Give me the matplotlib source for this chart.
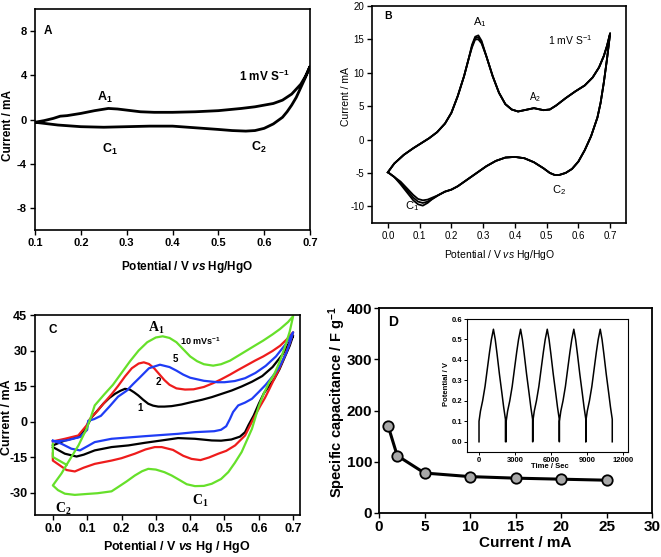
import matplotlib
matplotlib.use("Agg")
import matplotlib.pyplot as plt
import numpy as np

plt.rcParams['font.family'] = ['Liberation Sans', 'DejaVu Sans']
plt.rcParams['axes.unicode_minus'] = False
plt.rcParams['mathtext.fontset'] = 'custom'
plt.rcParams['mathtext.rm'] = 'Liberation Sans'
plt.rcParams['mathtext.bf'] = 'Liberation Sans:bold'
plt.rcParams['mathtext.it'] = 'Liberation Sans:italic'
plt.rcParams['mathtext.sf'] = 'Liberation Sans:bold:italic'
plt.rcParams['mathtext.cal'] = 'Liberation Serif:bold'

# ---------------- Panel A data ----------------
a_up_x = [0.10, 0.12, 0.14, 0.155, 0.17, 0.20, 0.23, 0.26, 0.28, 0.30, 0.33, 0.36, 0.40, 0.45, 0.50,
          0.55, 0.58, 0.60, 0.62, 0.64, 0.66, 0.68, 0.69, 0.70]
a_up_y = [-0.25, -0.1, 0.1, 0.3, 0.35, 0.55, 0.8, 1.0, 0.95, 0.85, 0.7, 0.65, 0.65, 0.7, 0.8,
          1.0, 1.15, 1.3, 1.45, 1.75, 2.3, 3.2, 3.9, 4.8]
a_dn_x = [0.70, 0.69, 0.68, 0.67, 0.66, 0.65, 0.64, 0.62, 0.60, 0.58, 0.56, 0.53, 0.50, 0.45, 0.40,
          0.35, 0.30, 0.25, 0.20, 0.15, 0.12, 0.10]
a_dn_y = [4.8, 3.8, 2.9, 2.0, 1.3, 0.7, 0.2, -0.4, -0.8, -1.0, -1.05, -1.0, -0.9, -0.75, -0.6,
          -0.6, -0.65, -0.7, -0.65, -0.5, -0.35, -0.25]

# ---------------- Panel B data ----------------
b_up_x = [0.0, 0.02, 0.05, 0.08, 0.10, 0.13, 0.155, 0.18, 0.20, 0.22, 0.24, 0.255, 0.265, 0.275, 0.285,
          0.295, 0.31, 0.33, 0.35, 0.37, 0.39, 0.41, 0.43, 0.45, 0.46, 0.47, 0.49, 0.51, 0.53, 0.56,
          0.59, 0.62, 0.645, 0.665, 0.68, 0.69, 0.70]
b_up_y = [-4.9, -3.6, -2.3, -1.3, -0.7, 0.2, 1.1, 2.4, 4.0, 6.5, 9.5, 12.2, 14.0, 15.2, 15.3,
          14.6, 12.5, 9.5, 7.0, 5.3, 4.5, 4.2, 4.4, 4.6, 4.7, 4.6, 4.4, 4.5, 5.1, 6.2,
          7.2, 8.1, 9.3, 10.8, 12.5, 14.0, 15.9]
b_dn_x = [0.70, 0.69, 0.68, 0.67, 0.66, 0.64, 0.62, 0.60, 0.58, 0.56, 0.54, 0.525, 0.51, 0.49, 0.46,
          0.43, 0.40, 0.37, 0.34, 0.31, 0.28, 0.25, 0.22, 0.20, 0.18, 0.16, 0.14, 0.125, 0.11, 0.095,
          0.08, 0.06, 0.04, 0.02, 0.0]
b_dn_y = [15.9, 12.0, 8.5, 5.5, 3.3, 0.5, -1.6, -3.3, -4.4, -5.0, -5.3, -5.3, -5.0, -4.3, -3.4,
          -2.8, -2.6, -2.7, -3.2, -4.0, -5.0, -6.0, -7.0, -7.5, -7.8, -8.3, -8.9, -9.3, -9.5, -9.3,
          -8.7, -7.6, -6.5, -5.6, -4.9]
# cycle-to-cycle spread near A1 and C1
b_a1_x = [0.265, 0.275, 0.285, 0.295]
b_a1_cycles = [[14.2, 15.4, 15.6, 14.8], [14.0, 15.2, 15.3, 14.6], [13.8, 15.0, 15.0, 14.4]]
b_c1_x = [0.14, 0.125, 0.11, 0.095, 0.08, 0.06, 0.04]
b_c1_cycles = [[-8.9, -9.5, -9.9, -9.7, -9.1, -7.9, -6.7],
               [-8.9, -9.3, -9.5, -9.3, -8.7, -7.6, -6.5],
               [-8.7, -9.0, -9.1, -8.9, -8.3, -7.3, -6.3]]

# ---------------- Panel C data ----------------
c_black_x = [0.0, 0.035, 0.074, 0.098, 0.113, 0.13, 0.147, 0.165, 0.181, 0.197, 0.21, 0.224, 0.237,
             0.249, 0.263, 0.278, 0.292, 0.307, 0.325, 0.346, 0.375, 0.404, 0.435, 0.463, 0.49, 0.521,
             0.55, 0.58, 0.61, 0.64, 0.67, 0.7,
             0.69, 0.675, 0.66, 0.645, 0.63, 0.615, 0.60, 0.585, 0.57, 0.56, 0.545, 0.52, 0.49, 0.463,
             0.414, 0.365, 0.317, 0.268, 0.22, 0.171, 0.122, 0.09, 0.069, 0.035, 0.0]
c_black_y = [-10.1, -8.0, -6.6, -2.4, 1.8, 4.6, 7.5, 10.0, 11.7, 13.0, 13.8, 13.5, 12.3,
             11.0, 9.2, 7.5, 6.7, 6.3, 6.3, 6.5, 7.2, 8.2, 9.2, 10.3, 11.6, 13.1,
             14.8, 16.8, 19.2, 23.0, 28.5, 36.3,
             32.0, 27.0, 22.0, 18.0, 15.0, 12.0, 7.5, 2.5, -1.5, -4.5, -6.4, -7.6, -8.1, -8.0,
             -7.3, -7.0, -8.0, -9.0, -10.1, -10.8, -12.2, -14.0, -14.8, -13.6, -10.8]
c_red_x = [0.0, 0.035, 0.074, 0.098, 0.108, 0.13, 0.15, 0.171, 0.19, 0.21, 0.23, 0.25, 0.265, 0.28,
           0.295, 0.31, 0.325, 0.34, 0.36, 0.385, 0.41, 0.44, 0.467, 0.49, 0.516, 0.54, 0.565, 0.59,
           0.613, 0.64, 0.662, 0.68, 0.70,
           0.69, 0.675, 0.66, 0.645, 0.63, 0.618, 0.604, 0.584, 0.56, 0.531, 0.505, 0.482, 0.455,
           0.43, 0.404, 0.38, 0.35, 0.317, 0.297, 0.27, 0.239, 0.2, 0.171, 0.122, 0.09, 0.064, 0.04,
           0.02, 0.0, 0.0]
c_red_y = [-8.4, -7.3, -5.9, -1.7, 1.1, 4.5, 8.0, 11.5, 15.0, 19.0, 22.5, 24.5, 25.0, 24.3,
           22.5, 20.0, 17.5, 15.5, 14.0, 13.5, 13.6, 14.6, 16.2, 17.8, 19.8, 21.8, 23.8, 25.8,
           27.5, 29.8, 32.0, 34.5, 37.7,
           33.0, 27.5, 22.5, 18.0, 13.5, 10.0, 6.5, 1.1, -5.9, -10.1, -12.4, -13.6, -15.2,
           -16.3, -15.8, -14.5, -12.0, -10.8, -10.8, -11.8, -13.6, -15.5, -16.5, -17.9, -19.5, -21.1, -20.5,
           -18.5, -16.5, -13.5]
c_blue_x = [0.0, 0.04, 0.08, 0.10, 0.103, 0.12, 0.14, 0.166, 0.19, 0.215, 0.235, 0.254, 0.28, 0.312,
            0.34, 0.36, 0.38, 0.40, 0.44, 0.48, 0.50, 0.53, 0.56, 0.59, 0.62, 0.65, 0.68, 0.70,
            0.69, 0.68, 0.66, 0.64, 0.62, 0.60, 0.58, 0.56, 0.54, 0.525, 0.516, 0.505, 0.49, 0.47,
            0.414, 0.365, 0.268, 0.171, 0.122, 0.10, 0.079, 0.054, 0.025, 0.0]
c_blue_y = [-8.4, -8.0, -6.5, -3.5, 0.3, 1.0, 2.4, 6.5, 10.5, 13.0, 16.0, 18.7, 22.5, 24.0,
            23.0, 21.5, 19.8, 18.5, 17.2, 16.6, 16.6, 17.1, 18.3, 20.5, 23.5, 27.5, 33.0, 37.7,
            33.0, 29.0, 23.0, 19.0, 15.5, 12.5, 9.6, 8.0, 6.8, 4.0, 1.1, -2.0, -3.5, -4.1,
            -4.5, -5.2, -6.2, -7.3, -8.7, -10.5, -12.2, -11.5, -9.4, -8.0]
c_green_x = [0.0, 0.0, 0.04, 0.054, 0.075, 0.098, 0.11, 0.122, 0.15, 0.175, 0.20, 0.225, 0.25, 0.275,
             0.30, 0.32, 0.34, 0.36, 0.38, 0.40, 0.42, 0.44, 0.467, 0.49, 0.516, 0.54, 0.565, 0.59,
             0.613, 0.64, 0.662, 0.685, 0.70,
             0.69, 0.675, 0.66, 0.645, 0.63, 0.615, 0.60, 0.58, 0.565, 0.55, 0.53, 0.511, 0.49,
             0.463, 0.44, 0.414, 0.39, 0.37, 0.346, 0.325, 0.30, 0.278, 0.26, 0.239, 0.215, 0.19,
             0.171, 0.13, 0.10, 0.064, 0.035, 0.015, 0.0, 0.025, 0.04]
c_green_y = [-9.5, -15.0, -18.3, -15.0, -10.0, -3.1, 1.5, 6.8, 11.5, 15.5, 20.5, 25.5, 30.0, 33.5,
             35.5, 36.0, 35.3, 33.5, 30.5, 27.5, 25.5, 24.2, 23.6, 24.2, 25.7, 27.8, 30.0, 32.2,
             34.2, 36.8, 39.1, 42.0, 44.5,
             38.0, 31.0, 25.0, 20.0, 16.5, 12.0, 6.5, -3.1, -8.0, -12.9, -17.5, -21.4, -24.3,
             -26.3, -27.2, -27.3, -26.5, -24.8, -22.8, -21.4, -20.3, -20.0, -21.0, -22.8, -25.3, -27.7,
             -29.5, -30.3, -30.6, -31.0, -30.5, -29.0, -27.0, -22.0, -18.3]

# ---------------- Panel D data ----------------
d_current = [1, 2, 5, 10, 15, 20, 25]
d_capacitance = [170, 112, 78, 71, 68, 66, 64]
# inset: galvanostatic charge-discharge
gcd_cycle_start = [0, 2260, 4480, 6690, 8890]
gcd_shape_dt = [0, 120, 300, 500, 700, 880, 1030, 1200, 1350, 1500, 1700, 1900, 2050, 2200]
gcd_shape_v = [0.10, 0.15, 0.20, 0.27, 0.36, 0.44, 0.50, 0.55, 0.50, 0.43, 0.33, 0.24, 0.17, 0.11]

# ---------------- Figure ----------------
W, H = 661, 557
fig = plt.figure(figsize=(W / 100, H / 100), dpi=100)

def px_axes(l, t, r, b):
    return fig.add_axes([l / W, 1 - b / H, (r - l) / W, (b - t) / H])

def ftext(x, y, s, rot=0, **kw):
    fig.text(x / W, 1 - y / H, s, rotation=rot, ha='center', va='center', **kw)

def style(ax, bold=True, size=7.5, lw=1.2, pad=2.5):
    for s in ax.spines.values():
        s.set_linewidth(lw)
    ax.tick_params(direction='out', length=3.5, width=1.0, labelsize=size, top=False, right=False,
                   pad=pad)
    for lab in ax.get_xticklabels() + ax.get_yticklabels():
        lab.set_fontweight('bold' if bold else 'normal')

# Panel A
axA = px_axes(35, 9, 310, 230)
axA.plot(a_up_x + a_dn_x, a_up_y + a_dn_y, color='black', lw=2.0)
axA.set_xlim(0.1, 0.7)
axA.set_ylim(-10, 10)
axA.set_xticks([0.1, 0.2, 0.3, 0.4, 0.5, 0.6, 0.7])
axA.set_yticks([-8, -4, 0, 4, 8])
style(axA, True, 8)
ftext(187, 267, r'Potential / V $\mathsf{vs}$ Hg/HgO', fontsize=8.5, fontweight='bold')
ftext(8, 125, 'Current / mA', rot=90, fontsize=8.5, fontweight='bold')
axA.text(0.128, 8, 'A', fontsize=8.5, fontweight='bold', ha='center', va='center')
axA.text(0.6, 3.9, r'1 mV S$^\mathbf{-1}$', fontsize=8.5, fontweight='bold', ha='center', va='center')
axA.text(0.253, 2.0, r'A$_\mathbf{1}$', fontsize=9, fontweight='bold', ha='center', va='center')
axA.text(0.264, -2.7, r'C$_\mathbf{1}$', fontsize=9, fontweight='bold', ha='center', va='center')
axA.text(0.589, -2.5, r'C$_\mathbf{2}$', fontsize=9, fontweight='bold', ha='center', va='center')

# Panel B
axB = px_axes(372, 6, 626, 223)
for a1v, c1v in zip(b_a1_cycles, b_c1_cycles):
    uy = list(b_up_y)
    for xv, yv in zip(b_a1_x, a1v):
        uy[b_up_x.index(xv)] = yv
    dy = list(b_dn_y)
    for xv, yv in zip(b_c1_x, c1v):
        dy[b_dn_x.index(xv)] = yv
    axB.plot(b_up_x + b_dn_x, uy + dy, color='black', lw=1.3)
axB.set_xlim(-0.05, 0.75)
axB.set_ylim(-12.5, 20)
axB.set_xticks([0.0, 0.1, 0.2, 0.3, 0.4, 0.5, 0.6, 0.7])
axB.set_xticklabels(['0.0', '0.1', '0.2', '0.3', '0.4', '0.5', '0.6', '0.7'])
axB.set_yticks([-10, -5, 0, 5, 10, 15, 20])
style(axB, False, 7, pad=2)
ftext(500, 255, r'Potential / V $\mathit{vs}$ Hg/HgO', fontsize=7.5)
ftext(346, 97, 'Current / mA', rot=90, fontsize=7.5)
axB.text(0.0, 18.5, 'B', fontsize=7.5, fontweight='bold', ha='center', va='center')
axB.text(0.29, 17.6, r'A$_1$', fontsize=8, ha='center', va='center')
axB.text(0.575, 14.9, r'1 mV S$^{-1}$', fontsize=7.5, ha='center', va='center')
axB.text(0.463, 6.4, r'A$_2$', fontsize=7, ha='center', va='center')
axB.text(0.54, -7.5, r'C$_2$', fontsize=8, ha='center', va='center')
axB.text(0.076, -10.0, r'C$_1$', fontsize=8, ha='center', va='center')

# Panel C
axC = px_axes(35, 315, 300, 515)
axC.plot(c_black_x, c_black_y, color='black', lw=1.6)
axC.plot(c_red_x, c_red_y, color='#ee1c1c', lw=1.6)
axC.plot(c_blue_x, c_blue_y, color='#1f3cf5', lw=1.6)
axC.plot(c_green_x, c_green_y, color='#66e02a', lw=1.6)
axC.set_xlim(-0.052, 0.72)
axC.set_ylim(-39.5, 45)
axC.set_xticks([0.0, 0.1, 0.2, 0.3, 0.4, 0.5, 0.6, 0.7])
axC.set_xticklabels(['0.0', '0.1', '0.2', '0.3', '0.4', '0.5', '0.6', '0.7'])
axC.set_yticks([-30, -15, 0, 15, 30, 45])
style(axC, True, 9, pad=2)
ftext(177, 547, r'Potential / V $\mathsf{vs}$ Hg / HgO', fontsize=9, fontweight='bold')
ftext(7, 417, 'Current / mA', rot=90, fontsize=9, fontweight='bold')
axC.text(0.0, 38.5, 'C', fontsize=8.5, fontweight='bold', ha='center', va='center')
axC.text(0.30, 39.5, r'$\mathcal{A}_\mathcal{1}$', fontsize=10, ha='center', va='center')
axC.text(0.43, 34.0, r'10 mVs$^\mathbf{-1}$', fontsize=6.5, fontweight='bold', ha='center', va='center')
axC.text(0.356, 26.6, '5', fontsize=7, fontweight='bold', ha='center', va='center')
axC.text(0.306, 16.5, '2', fontsize=7, fontweight='bold', ha='center', va='center')
axC.text(0.254, 5.5, '1', fontsize=7, fontweight='bold', ha='center', va='center')
axC.text(0.43, -33.5, r'$\mathcal{C}_\mathcal{1}$', fontsize=10, ha='center', va='center')
axC.text(0.03, -37.0, r'$\mathcal{C}_\mathcal{2}$', fontsize=10, ha='center', va='center')

# Panel D
axD = px_axes(379, 308, 652, 513)
axD.plot(d_current, d_capacitance, color='black', lw=2.2, marker='o', ms=7.5,
         mfc='#a8a8a8', mec='black', mew=1.3)
axD.set_xlim(0, 30)
axD.set_ylim(0, 400)
axD.set_xticks([0, 5, 10, 15, 20, 25, 30])
axD.set_yticks([0, 100, 200, 300, 400])
style(axD, True, 11, 1.3, pad=1.5)
ftext(525, 543, 'Current / mA', fontsize=11, fontweight='bold')
ftext(337, 402, r'Specific capacitance / F g$^\mathbf{-1}$', rot=90, fontsize=10.5, fontweight='bold')
axD.text(1.5, 373, 'D', fontsize=10, fontweight='bold', ha='center', va='center')

# Inset
axI = px_axes(467, 319, 628, 452)
tt, vv = [], []
for t0 in gcd_cycle_start:
    tt.append(t0)
    vv.append(0.0)
    for dt, v in zip(gcd_shape_dt, gcd_shape_v):
        tt.append(t0 + dt)
        vv.append(v)
    tt.append(t0 + gcd_shape_dt[-1])
    vv.append(0.0)
axI.plot(tt, vv, color='black', lw=1.1)
axI.set_xlim(-1000, 12400)
axI.set_ylim(-0.05, 0.6)
axI.set_xticks([0, 3000, 6000, 9000, 12000])
axI.set_yticks([0.0, 0.1, 0.2, 0.3, 0.4, 0.5, 0.6])
for s in axI.spines.values():
    s.set_linewidth(0.8)
axI.tick_params(direction='out', length=2, width=0.7, labelsize=5.5, pad=1.5)
for lab in axI.get_xticklabels() + axI.get_yticklabels():
    lab.set_fontweight('bold')
ftext(550, 467, 'Time / Sec', fontsize=5.5, fontweight='bold')
ftext(446, 384, 'Potential / V', rot=90, fontsize=5.5, fontweight='bold')

fig.savefig('out.png', dpi=100)
